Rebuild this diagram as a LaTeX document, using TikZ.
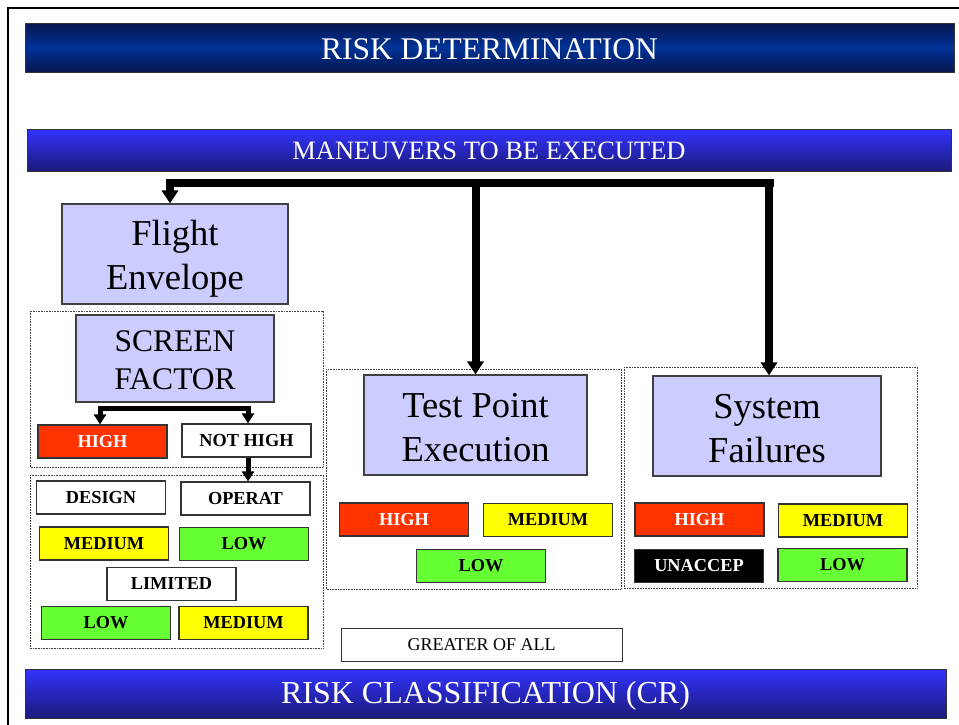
\documentclass[tikz,border=0pt]{standalone}
\usepackage{fontspec}
\setmainfont{Liberation Serif}
\usetikzlibrary{arrows.meta}
\definecolor{lav}{RGB}{204,204,255}
\definecolor{rred}{RGB}{255,51,0}
\definecolor{ryel}{RGB}{255,255,0}
\definecolor{rgrn}{RGB}{102,255,51}
\definecolor{navyA}{RGB}{8,22,78}
\definecolor{blueA}{RGB}{0,51,153}
\definecolor{blueB}{RGB}{51,51,255}
\definecolor{navyB}{RGB}{26,26,122}
\newcommand\pushtop[1]{\rule{0pt}{#1}}
\tikzset{
  bar/.style={draw=black!80, line width=0.8pt, text=white, inner sep=0pt},
  bigbox/.style={draw=black!75, line width=1.2pt, fill=lav, align=center, inner sep=0pt,
     font=\fontsize{36.5}{44}\selectfont},
  tag/.style={draw=black!80, line width=1.2pt, inner sep=0pt, minimum width=129pt, minimum height=33pt,
     font=\fontsize{18.3}{20}\selectfont\bfseries},
  redtag/.style={tag, fill=rred, text=white},
  yeltag/.style={tag, fill=ryel},
  grntag/.style={tag, fill=rgrn},
  whtag/.style={tag, fill=white},
  blktag/.style={tag, fill=black, text=white},
  dotbox/.style={draw=black!75, line width=0.9pt, dash pattern=on 0.8pt off 0.8pt},
  bigline/.style={line width=8pt},
  bigarrow/.style={line width=8pt, -{Triangle[width=16pt,length=13pt]}},
  smallline/.style={line width=5pt},
  smallarrow/.style={line width=5pt, -{Triangle[width=12pt,length=10pt]}},
}
\begin{document}
\begin{tikzpicture}[x=1pt,y=-1pt]
\useasboundingbox (0,0) rectangle (959,724);
\fill[white] (0,0) rectangle (959,724);
% outer frame
\draw[line width=2pt] (8,730) -- (8,8) -- (965,8);

% bars
\node[bar, minimum width=929pt, minimum height=49pt, top color=navyA, bottom color=navyA, middle color=blueA,
      font=\fontsize{31.5}{36}\selectfont] (title) at (489.5,47.5) {\pushtop{24pt}RISK DETERMINATION};
\node[bar, minimum width=924pt, minimum height=42pt, top color=blueB, bottom color=navyB,
      font=\fontsize{26.5}{30}\selectfont] (man) at (489,150) {\pushtop{19pt}MANEUVERS TO BE EXECUTED};
\node[bar, minimum width=921pt, minimum height=49pt, top color=blueB, bottom color=navyB,
      font=\fontsize{32}{36}\selectfont] (cr) at (485.5,693.5) {\pushtop{27pt}RISK CLASSIFICATION (CR)};

% dotted containers
\draw[dotbox] (30,311) rectangle (323,467);
\draw[dotbox] (30,475) rectangle (323,648);
\draw[dotbox] (326,369) rectangle (621,589);
\draw[dotbox] (624,367) rectangle (917,588);

% big boxes
\node[bigbox, minimum width=226pt, minimum height=100pt] (fe) at (175,254) {\pushtop{35pt}Flight\\Envelope};
\node[bigbox, minimum width=198pt, minimum height=87pt, font=\fontsize{31.5}{38}\selectfont] (sfac) at (175,358.5) {\pushtop{25pt}SCREEN\\FACTOR};
\node[bigbox, minimum width=223pt, minimum height=100pt] (tp) at (475.5,425) {\pushtop{30pt}Test Point\\Execution};
\node[bigbox, minimum width=228pt, minimum height=100pt] (sysf) at (767,426) {\pushtop{30pt}System\\Failures};

% left tags
\node[redtag] (high1) at (102.5,441.5) {HIGH};
\node[whtag] (nothigh) at (246.5,440.5) {NOT HIGH};
\node[whtag] (design) at (101,497.5) {DESIGN};
\node[whtag] (operat) at (245.5,498.5) {OPERAT};
\node[yeltag] (med1) at (104,543.5) {MEDIUM};
\node[grntag] (low1) at (244,544) {LOW};
\node[whtag] (limited) at (171.5,584) {LIMITED};
\node[grntag] (low2) at (106,623) {LOW};
\node[yeltag] (med2) at (243.5,623) {MEDIUM};

% test point tags
\node[redtag] (th) at (404,519.5) {HIGH};
\node[yeltag] (tm) at (548,520) {MEDIUM};
\node[grntag] (tl) at (481,566) {LOW};

% system failure tags
\node[redtag] (sh) at (699.5,519.5) {HIGH};
\node[yeltag] (sm) at (843,520.5) {MEDIUM};
\node[blktag] (su) at (699,566) {UNACCEP};
\node[grntag] (sl) at (842.5,565) {LOW};

% greater of all
\node[draw=black!80, line width=1pt, fill=white, minimum width=281pt, minimum height=33pt, inner sep=0pt,
      font=\fontsize{18}{20}\selectfont] (greater) at (481.5,644.5) {GREATER OF ALL};

% main connector
\coordinate (hL) at (166,183);
\coordinate (hR) at (774,183);
\draw[bigline] (hL) -- (hR);
\draw[bigarrow] ([xshift=-5pt]fe.north |- 0,180) -- ([xshift=-5pt]fe.north);
\draw[bigarrow] (tp.north |- 0,180) -- (tp.north);
\draw[bigarrow] ([xshift=2pt]sysf.north |- 0,180) -- ([xshift=2pt]sysf.north);

% screen factor branch
\coordinate (bL) at (97.5,408);
\coordinate (bR) at (250.5,408);
\draw[smallline] (bL) -- (bR);
\draw[smallarrow] ([xshift=-2.5pt]high1.north |- 0,406) -- ([xshift=-2.5pt]high1.north);
\draw[smallarrow] ([xshift=1.5pt]nothigh.north |- 0,406) -- ([xshift=1.5pt]nothigh.north);
\draw[smallarrow] ([xshift=1.5pt]nothigh.south) -- ([xshift=1.5pt]nothigh.south |- operat.north);
\end{tikzpicture}
\end{document}
